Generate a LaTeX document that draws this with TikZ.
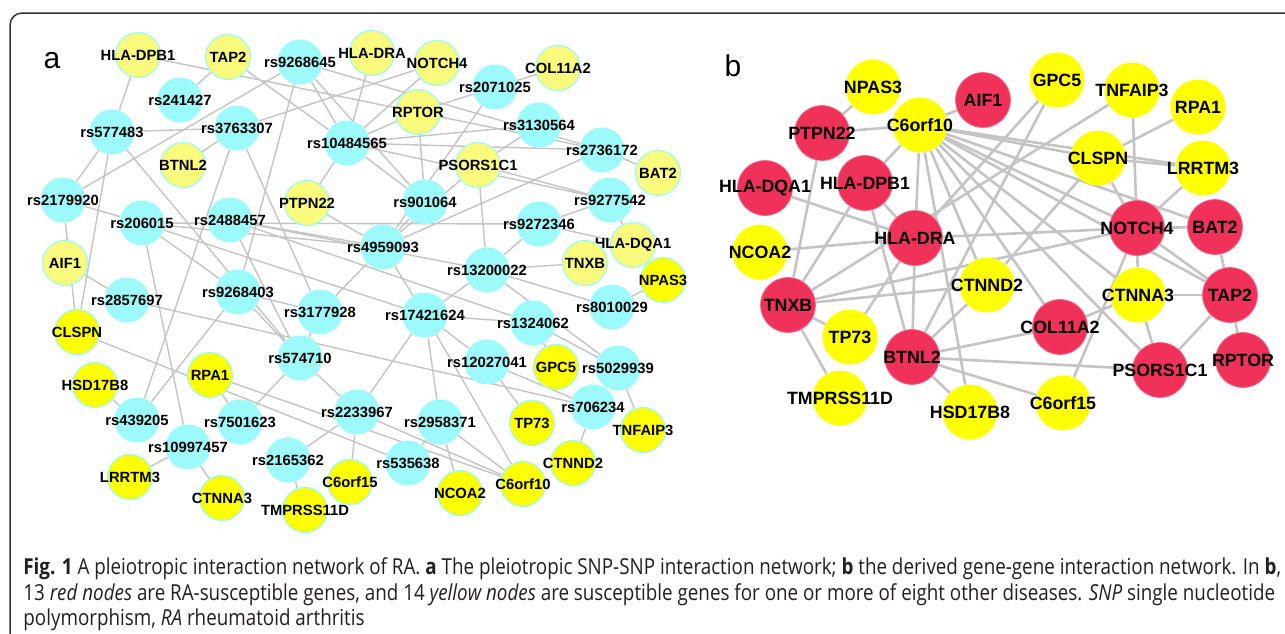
\documentclass[tikz,border=0pt]{standalone}
\usepackage{fontspec}
\setmainfont{Liberation Sans}
\newfontfamily\capfont[FakeStretch=0.855]{Open Sans}
\usetikzlibrary{backgrounds}

\definecolor{snpcyan}{RGB}{156,250,250}
\definecolor{paleyel}{RGB}{250,250,125}
\definecolor{brightyel}{RGB}{255,255,0}
\definecolor{rared}{RGB}{240,50,90}
\definecolor{lnkgray}{RGB}{196,196,196}
\definecolor{capgray}{RGB}{35,31,32}

\tikzset{
  lbl/.style={execute at begin node={\hbox to 0pt\bgroup\hss},
              execute at end node={\hss\egroup}},
  snp/.style={circle, fill=snpcyan, minimum size=22.5pt, inner sep=0pt, lbl,
              font=\fontsize{7.4}{8}\selectfont\bfseries},
  gpale/.style={snp, fill=paleyel, draw=snpcyan, line width=0.6pt},
  gbright/.style={snp, fill=brightyel, draw=snpcyan, line width=0.6pt},
  bred/.style={circle, fill=rared, draw=rared!75!white, line width=0.4pt,
               minimum size=27.5pt, inner sep=0pt, lbl,
               font=\fontsize{8.9}{9}\selectfont\bfseries},
  byel/.style={bred, fill=brightyel, draw=none},
  alnk/.style={draw=lnkgray, line width=0.7pt},
  blnk/.style={draw=lnkgray, line width=1.3pt},
  capline/.style={anchor=base west, inner sep=0pt, text=capgray,
                  font=\capfont\fontsize{11}{13}\selectfont}
}

\begin{document}
\begin{tikzpicture}[x=0.5pt,y=-0.5pt]
        \useasboundingbox (0,0) rectangle (1285,633);
        \draw[line width=0.75pt, draw=black!80, rounded corners=6pt]
          (10,680) -- (10,13) -- (1320,13);

        \node[font=\fontsize{15}{15}\selectfont] at (52,61) (pa) {a};
        \node[font=\fontsize{15}{15}\selectfont] at (733,66) (pb) {b};

        % panel a: SNP-SNP network
        \node[gpale] at (138,55) (aHLADPB) {HLA-DPB1};
        \node[gpale] at (228,57) (aTAP) {TAP2};
        \node[snp] at (300,62) (s9268645) {rs9268645};
        \node[gpale] at (372,53) (aHLADRA) {HLA-DRA};
        \node[gpale] at (437,63) (aNOTCH) {NOTCH4};
        \node[gpale] at (558,68) (aCOL) {COL11A2};
        \node[snp] at (495,87) (s2071025) {rs2071025};
        \node[gpale] at (418,112) (aRPTOR) {RPTOR};
        \node[snp] at (180,100) (s241427) {rs241427};
        \node[snp] at (112,132) (s577483) {rs577483};
        \node[snp] at (237,128) (s3763307) {rs3763307};
        \node[snp] at (347,143) (s10484565) {rs10484565};
        \node[snp] at (539,125) (s3130564) {rs3130564};
        \node[gpale] at (183,165) (aBTNL) {BTNL2};
        \node[gpale] at (478,165) (aPSORS) {PSORS1C1};
        \node[snp] at (602,150) (s2736172) {rs2736172};
        \node[gpale] at (658,173) (aBAT) {BAT2};
        \node[snp] at (63,200) (s2179920) {rs2179920};
        \node[snp] at (142,223) (s206015) {rs206015};
        \node[snp] at (230,220) (s2488457) {rs2488457};
        \node[gpale] at (307,203) (aPTPN) {PTPN22};
        \node[snp] at (425,202) (s901064) {rs901064};
        \node[snp] at (610,200) (s9277542) {rs9277542};
        \node[snp] at (539,224) (s9272346) {rs9272346};
        \node[gpale] at (633,245) (aHLADQA) {HLA-DQA1};
        \node[snp] at (383,247) (s4959093) {rs4959093};
        \node[gpale] at (65,263) (aAIF) {AIF1};
        \node[gpale] at (585,263) (aTNXB) {TNXB};
        \node[snp] at (487,270) (s13200022) {rs13200022};
        \node[gbright] at (663,280) (aNPAS) {NPAS3};
        \node[snp] at (127,300) (s2857697) {rs2857697};
        \node[snp] at (238,292) (s9268403) {rs9268403};
        \node[snp] at (612,307) (s8010029) {rs8010029};
        \node[snp] at (320,312) (s3177928) {rs3177928};
        \node[snp] at (425,315) (s17421624) {rs17421624};
        \node[snp] at (533,323) (s1324062) {rs1324062};
        \node[gbright] at (77,332) (aCLSPN) {CLSPN};
        \node[snp] at (300,358) (s574710) {rs574710};
        \node[snp] at (487,362) (s12027041) {rs12027041};
        \node[gbright] at (556,367) (aGPC) {GPC5};
        \node[snp] at (618,368) (s5029939) {rs5029939};
        \node[gbright] at (210,375) (aRPA) {RPA1};
        \node[gbright] at (95,385) (aHSD) {HSD17B8};
        \node[snp] at (593,407) (s706234) {rs706234};
        \node[snp] at (357,412) (s2233967) {rs2233967};
        \node[snp] at (137,420) (s439205) {rs439205};
        \node[snp] at (240,422) (s7501623) {rs7501623};
        \node[snp] at (440,422) (s2958371) {rs2958371};
        \node[gbright] at (532,423) (aTP) {TP73};
        \node[gbright] at (643,430) (aTNFAIP) {TNFAIP3};
        \node[snp] at (188,447) (s10997457) {rs10997457};
        \node[snp] at (288,460) (s2165362) {rs2165362};
        \node[snp] at (408,463) (s535638) {rs535638};
        \node[gbright] at (573,463) (aCTNND) {CTNND2};
        \node[gbright] at (130,477) (aLRRTM) {LRRTM3};
        \node[gbright] at (350,482) (aC6orf15) {C6orf15};
        \node[gbright] at (523,484) (aC6orf10) {C6orf10};
        \node[gbright] at (460,493) (aNCOA) {NCOA2};
        \node[gbright] at (222,498) (aCTNNA) {CTNNA3};
        \node[gbright] at (305,510) (aTMPRSS) {TMPRSS11D};

        % panel b: gene-gene network
        \node[byel] at (873,87) (bNPAS) {NPAS3};
        \node[bred] at (983,100) (bAIF) {AIF1};
        \node[bred] at (822,133) (bPTPN) {PTPN22};
        \node[byel] at (920,125) (bC6orf10) {C6orf10};
        \node[bred] at (765,188) (bHLADQA) {HLA-DQA1};
        \node[bred] at (865,183) (bHLADPB) {HLA-DPB1};
        \node[bred] at (915,238) (bHLADRA) {HLA-DRA};
        \node[byel] at (760,252) (bNCOA) {NCOA2};
        \node[byel] at (1057,80) (bGPC) {GPC5};
        \node[byel] at (1132,90) (bTNFAIP) {TNFAIP3};
        \node[byel] at (1198,107) (bRPA) {RPA1};
        \node[byel] at (1098,158) (bCLSPN) {CLSPN};
        \node[byel] at (1203,168) (bLRRTM) {LRRTM3};
        \node[bred] at (1137,228) (bNOTCH) {NOTCH4};
        \node[bred] at (1215,227) (bBAT) {BAT2};
        \node[bred] at (788,305) (bTNXB) {TNXB};
        \node[byel] at (850,337) (bTP) {TP73};
        \node[bred] at (912,357) (bBTNL) {BTNL2};
        \node[byel] at (840,398) (bTMPRSS) {TMPRSS11D};
        \node[byel] at (970,412) (bHSD) {HSD17B8};
        \node[byel] at (987,285) (bCTNND) {CTNND2};
        \node[byel] at (1138,295) (bCTNNA) {CTNNA3};
        \node[bred] at (1230,295) (bTAP) {TAP2};
        \node[bred] at (1060,327) (bCOL) {COL11A2};
        \node[bred] at (1160,370) (bPSORS) {PSORS1C1};
        \node[bred] at (1243,360) (bRPTOR) {RPTOR};
        \node[byel] at (1063,403) (bC6orf15) {C6orf15};

        \begin{scope}[on background layer]
        \fill[white] (0,0) rectangle (1285,633);
        \path[alnk]
        (aHLADPB) edge (s577483)   (aHLADPB) edge (s2736172)
        (aTAP) edge (s241427)      (aTAP) edge (s10484565)
        (s9268645) edge (s2179920) (s9268645) edge (s10484565)
        (s9268645) edge (s2736172) (s9268645) edge (s901064)
        (s9268645) edge (s9268403)
        (s577483) edge (s3763307)  (s577483) edge (s2179920)
        (s577483) edge (aCLSPN)    (s577483) edge (s574710)
        (s3763307) edge (aBTNL)    (s3763307) edge (aNOTCH)
        (s3763307) edge (s439205)  (s3763307) edge (s3177928)
        (aHLADRA) edge (s10484565) (aNOTCH) edge (s10484565)
        (aRPTOR) edge (s2071025)   (s2071025) edge (aCOL)
        (s2071025) edge (s4959093) (aRPTOR) edge (s901064)
        (aRPTOR) edge (s10484565)  (s10484565) edge (s3130564)
        (s10484565) edge (s2736172) (s10484565) edge (s9277542)
        (aPSORS) edge (s3130564)   (aPSORS) edge (s9277542)
        (aPSORS) edge (s13200022)  (aPSORS) edge (s4959093)
        (s2736172) edge (aBAT)     (s2736172) edge (s4959093)
        (s9277542) edge (s9272346) (s9277542) edge (aHLADQA)
        (s9272346) edge (s13200022) (s9272346) edge (aHLADQA)
        (s9272346) edge (s206015)
        (aTNXB) edge (s13200022)   (aNPAS) edge (s8010029)
        (s8010029) edge (s13200022) (s13200022) edge (s17421624)
        (s13200022) edge (s2488457) (s13200022) edge (s5029939)
        (s206015) edge (s4959093)  (s206015) edge (s17421624)
        (s206015) edge (s9268403)  (s206015) edge (s10997457)
        (s2488457) edge (s574710)  (s2488457) edge (s4959093)
        (s2488457) edge (s1324062)
        (aPTPN) edge (s4959093)    (aPTPN) edge (s10484565)
        (s901064) edge (s4959093)  (s901064) edge (s10484565)
        (s4959093) edge (s17421624) (s4959093) edge (s3177928)
        (s17421624) edge (s1324062) (s17421624) edge (s2958371)
        (s17421624) edge (s12027041) (s17421624) edge (s2233967)
        (s17421624) edge (aC6orf10)
        (s1324062) edge (aGPC)     (s1324062) edge (s5029939)
        (s12027041) edge (aTP)     (s12027041) edge (s706234)
        (s5029939) edge (aTNFAIP)  (s5029939) edge (s706234)
        (s706234) edge (aCTNND)    (s706234) edge (s2857697)
        (aCLSPN) edge (s535638)    (aRPA) edge (aC6orf10)
        (s574710) edge (s7501623)  (s574710) edge (s3177928)
        (s574710) edge (s2233967)
        (s9268403) edge (s439205)  (s9268403) edge (s574710)
        (s9268403) edge (s3177928)
        (s2857697) edge (aAIF)     (s2179920) edge (aCLSPN)
        (s2179920) edge (s206015)
        (aHSD) edge (s439205)
        (s10997457) edge (aLRRTM)  (s10997457) edge (aCTNNA)
        (s7501623) edge (aRPA)
        (s2165362) edge (aTMPRSS)  (s2165362) edge (s2233967)
        (s2233967) edge (aC6orf15) (s2233967) edge (aC6orf10)
        (s2958371) edge (aNCOA)    (s2958371) edge (aC6orf10)
        (s2958371) edge (s535638);

        \path[blnk]
        (bNPAS) edge (bPTPN)      (bPTPN) edge (bC6orf10)
        (bC6orf10) edge (bAIF)    (bC6orf10) edge (bHLADPB)
        (bHLADPB) edge (bHLADRA)  (bHLADQA) edge (bHLADRA)
        (bNCOA) edge (bHLADRA)    (bHLADRA) edge (bNOTCH)
        (bPTPN) edge (bTNXB)      (bHLADPB) edge (bTNXB)
        (bHLADPB) edge (bBTNL)    (bC6orf10) edge (bHLADRA)
        (bC6orf10) edge (bCLSPN)  (bC6orf10) edge (bLRRTM)
        (bC6orf10) edge (bNOTCH)  (bC6orf10) edge (bBAT)
        (bC6orf10) edge (bCTNNA)  (bC6orf10) edge (bPSORS)
        (bC6orf10) edge (bTAP)    (bC6orf10) edge (bCOL)
        (bC6orf10) edge (bCTNND)  (bC6orf10) edge (bHSD)
        (bGPC) edge (bBTNL)       (bGPC) edge (bHLADRA)
        (bTNFAIP) edge (bTNXB)    (bTNFAIP) edge (bNOTCH)
        (bRPA) edge (bCLSPN)      (bCLSPN) edge (bLRRTM)
        (bLRRTM) edge (bNOTCH)    (bNOTCH) edge (bBAT)
        (bCLSPN) edge (bNOTCH)    (bCLSPN) edge (bCTNND)
        (bTNXB) edge (bNOTCH)     (bTNXB) edge (bCTNND)
        (bTNXB) edge (bTP)        (bTNXB) edge (bTMPRSS)
        (bTP) edge (bHLADRA)      (bBTNL) edge (bHLADRA)
        (bBTNL) edge (bCTNND)     (bBTNL) edge (bCOL)
        (bBTNL) edge (bPSORS)     (bBTNL) edge (bC6orf15)
        (bBTNL) edge (bHSD)       (bCTNNA) edge (bTAP)
        (bCTNNA) edge (bPSORS)    (bTAP) edge (bPSORS)
        (bTAP) edge (bBAT)        (bTAP) edge (bRPTOR)
        (bNOTCH) edge (bCTNNA)    (bNOTCH) edge (bTAP)
        (bCOL) edge (bCTNNA)      (bC6orf15) edge (bNOTCH);
        \end{scope}

        % caption
        \node[capline] at (23,574) (cap1) {\textbf{Fig. 1} A pleiotropic interaction network of RA. \textbf{a} The pleiotropic SNP-SNP interaction network; \textbf{b} the derived gene-gene interaction network. In \textbf{b},};
        \node[capline] at (23,600) (cap2) {13 \textit{red nodes} are RA-susceptible genes, and 14 \textit{yellow nodes} are susceptible genes for one or more of eight other diseases. \textit{SNP} single nucleotide};
        \node[capline] at (23,625) (cap3) {polymorphism, \textit{RA} rheumatoid arthritis};
    \end{tikzpicture}
\end{document}
